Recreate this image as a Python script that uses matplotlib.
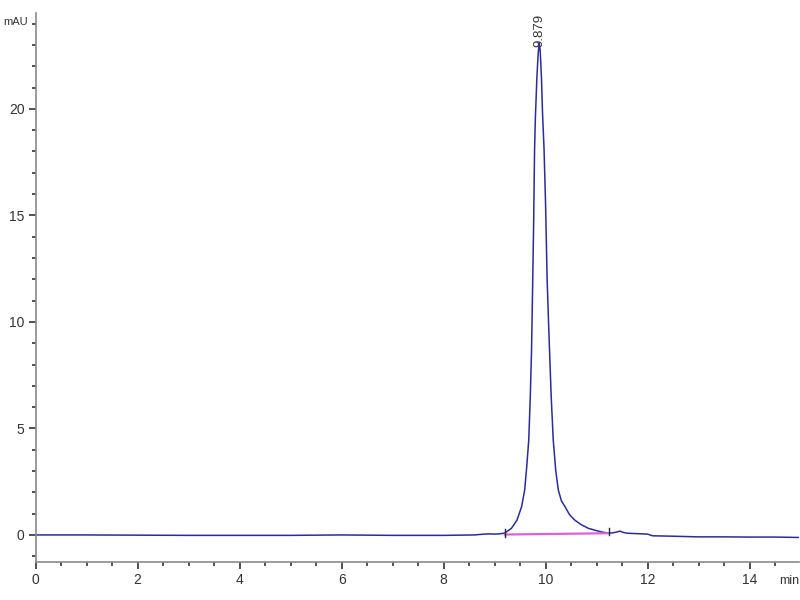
import matplotlib.pyplot as plt
from matplotlib.ticker import MultipleLocator

# chromatogram trace (min, mAU)
time = [0, 1, 2, 3, 4, 5, 6, 7, 8, 8.6, 8.8, 8.9, 9.0, 9.1, 9.2, 9.33, 9.44,
        9.53, 9.59, 9.63, 9.67, 9.70, 9.725, 9.745, 9.765, 9.784, 9.80, 9.83,
        9.855, 9.875, 9.895, 9.92, 9.94, 9.97, 10.0, 10.03, 10.07, 10.11,
        10.15, 10.2, 10.25, 10.31, 10.38, 10.47, 10.57, 10.7, 10.84, 11.0,
        11.1, 11.2, 11.3, 11.4, 11.46, 11.52, 11.6, 11.8, 12.0, 12.1, 12.5,
        13, 13.5, 14, 14.5, 15]
signal = [0.0, 0.0, -0.01, -0.02, -0.02, -0.02, 0.0, -0.02, -0.02, 0.0, 0.04,
          0.05, 0.04, 0.05, 0.09, 0.31, 0.70, 1.33, 2.11, 3.2, 4.46, 6.5, 8.7,
          11.56, 14.5, 18.1, 19.6, 21.5, 22.6, 23.1, 22.7, 21.4, 19.8, 18.1,
          15.5, 12.0, 9.16, 6.5, 4.46, 3.0, 2.11, 1.6, 1.33, 0.95, 0.70, 0.48,
          0.31, 0.2, 0.14, 0.1, 0.09, 0.14, 0.18, 0.12, 0.08, 0.06, 0.04,
          -0.04, -0.06, -0.09, -0.09, -0.1, -0.1, -0.12]

# integration baseline
base_t = [9.2, 11.24]
base_y = [0.02, 0.08]

peak_t = 9.879
peak_h = 23.1
peak_label = "9.879"

plt.rcParams['font.family'] = ['Liberation Sans', 'DejaVu Sans']

fig = plt.figure(figsize=(8, 6), dpi=100)
ax = fig.add_axes([35.7 / 800, 38 / 600, (799 - 35.7) / 800, (562 - 13) / 600])

ax.plot(time, signal, color='#2b2b9c', lw=1.1)
ax.plot(base_t, base_y, color='#e060d8', lw=1.6)
for t, b in zip(base_t, base_y):
    ax.plot([t, t], [b - 0.1, b + 0.25], color='#222244', lw=1)

ax.text(peak_t, peak_h - 0.2, peak_label, rotation=90, ha='center', va='bottom',
        fontsize=9.5, color='#333333')

ax.set_xlim(0, 14.97)
ax.set_ylim(-1.27, 24.5)
ax.xaxis.set_major_locator(MultipleLocator(2))
ax.xaxis.set_minor_locator(MultipleLocator(0.5))
ax.yaxis.set_major_locator(MultipleLocator(5))
ax.yaxis.set_minor_locator(MultipleLocator(1))

for s in ['top', 'right']:
    ax.spines[s].set_visible(False)
for s in ['left', 'bottom']:
    ax.spines[s].set_color('#8a8a8a')
    ax.spines[s].set_linewidth(1.2)

ax.tick_params(which='major', direction='out', length=5, width=1.2,
               color='#333333', labelsize=10, labelcolor='#333333', pad=3)
ax.tick_params(which='minor', direction='out', length=3, width=1.2, color='#333333')

fig.text(3 / 800, 1 - 22 / 600, 'mAU', ha='left', va='center', fontsize=8, color='#333333')
fig.text(779 / 800, 1 - 581 / 600, 'min', ha='left', va='center', fontsize=9, color='#333333')

fig.savefig('out.png', dpi=100)
